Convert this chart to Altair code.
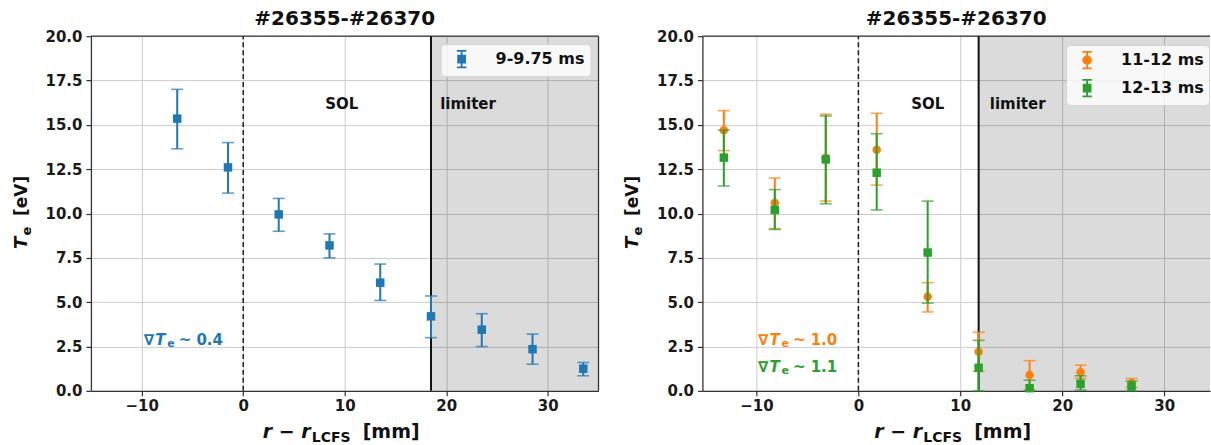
import altair as alt
import pandas as pd

FONT = "DejaVu Sans"
TITLE = "#26355-#26370"

X_TICKS = [-10, 0, 10, 20, 30]
Y_TICKS = [0.0, 2.5, 5.0, 7.5, 10.0, 12.5, 15.0, 17.5, 20.0]
Y_MAX = 20.0

BLUE, ORANGE, GREEN = "#1f77b4", "#ff7f0e", "#2ca02c"

# ---- left panel: 9-9.75 ms ----
L_SERIES = "9-9.75 ms"
L_X = [-6.5, -1.5, 3.5, 8.5, 13.5, 18.5, 23.5, 28.5, 33.5]
L_TE = [15.35, 12.6, 9.95, 8.2, 6.1, 4.2, 3.45, 2.35, 1.25]
L_LO = [13.65, 11.15, 9.0, 7.5, 5.1, 3.0, 2.5, 1.5, 0.85]
L_HI = [17.0, 14.0, 10.85, 8.85, 7.15, 5.35, 4.35, 3.2, 1.6]
L_LIMITER = 18.5
L_XDOM = [-15.0, 35.0]
L_REGIONS = [("SOL", 9.7, "center"), ("limiter", 19.4, "left")]
L_GRAD = [("0.4", BLUE, -9.8, 2.84)]

# ---- right panel: 11-12 ms and 12-13 ms ----
R_SERIES = ["11-12 ms", "12-13 ms"]
R_X = [-13.2, -8.2, -3.2, 1.8, 6.8, 11.8, 16.8, 21.8, 26.8]
O_TE = [14.7, 10.6, 13.15, 13.6, 5.3, 2.2, 0.9, 1.05, 0.45]
O_LO = [13.55, 9.15, 10.7, 11.6, 4.45, 1.1, 0.05, 0.7, 0.2]
O_HI = [15.8, 12.0, 15.6, 15.65, 6.1, 3.3, 1.7, 1.45, 0.7]
G_TE = [13.15, 10.2, 13.05, 12.3, 7.8, 1.3, 0.15, 0.4, 0.25]
G_LO = [11.55, 9.1, 10.55, 10.2, 4.95, 0.0, 0.0, 0.05, 0.0]
G_HI = [14.7, 11.35, 15.5, 14.5, 10.7, 2.85, 0.6, 0.85, 0.55]
R_LIMITER = 11.8
R_XDOM = [-15.3, 34.5]
R_REGIONS = [("SOL", 6.8, "center"), ("limiter", 12.9, "left")]
R_GRAD = [("1.0", ORANGE, -9.85, 2.84), ("1.1", GREEN, -9.85, 1.35)]

REGION_Y = 16.2

W, H = 508, 355

# legend glyphs: an error bar with its marker, in Vega's unit square
ERR_SQUARE = ("M-0.55,-0.95H0.55M0,-0.95V0.95M-0.55,0.95H0.55"
              "M-0.4,-0.4H0.4V0.4H-0.4Z")
ERR_CIRCLE = ("M-0.55,-0.95H0.55M0,-0.95V0.95M-0.55,0.95H0.55"
              "M0.45,0A0.45,0.45 0 1,1 -0.45,0A0.45,0.45 0 1,1 0.45,0Z")


def axes(xdom):
    x = alt.X(
        "r:Q",
        title=None,
        scale=alt.Scale(domain=xdom, nice=False, zero=False),
        axis=alt.Axis(values=X_TICKS, format="d", grid=True, tickSize=5,
                      labelPadding=3),
    )
    y = alt.Y(
        "te:Q",
        title=None,
        scale=alt.Scale(domain=[0, Y_MAX], nice=False, zero=True),
        axis=alt.Axis(values=Y_TICKS, format=".1f", grid=True, tickSize=5,
                      labelPadding=4),
    )
    return x, y


def frame(xdom, lim, right_border):
    x, y = axes(xdom)
    shade = alt.Chart(pd.DataFrame(
        {"r": [lim], "r2": [xdom[1]], "te": [0.0], "te2": [Y_MAX]}
    )).mark_rect(color="black", opacity=0.14).encode(
        x=x, x2="r2:Q", y=y, y2="te2:Q")
    top = alt.Chart(pd.DataFrame(
        {"r": [xdom[0]], "r2": [xdom[1]], "te": [Y_MAX]}
    )).mark_rule(color="#333333", strokeWidth=1.3).encode(
        x=alt.X("r:Q", title=None), x2="r2:Q", y=alt.Y("te:Q", title=None))
    layers = [shade, top]
    if right_border:
        layers.append(alt.Chart(pd.DataFrame(
            {"r": [xdom[1]], "te": [0.0], "te2": [Y_MAX]}
        )).mark_rule(color="#333333", strokeWidth=1.3).encode(
            x=alt.X("r:Q", title=None), y=alt.Y("te:Q", title=None), y2="te2:Q"))
    sep = alt.Chart(pd.DataFrame(
        {"r": [0.0], "te": [0.0], "te2": [Y_MAX]}
    )).mark_rule(color="#222222", strokeWidth=1.5, strokeDash=[5, 3]).encode(
        x=alt.X("r:Q", title=None), y=alt.Y("te:Q", title=None), y2="te2:Q")
    limiter = alt.Chart(pd.DataFrame(
        {"r": [lim], "te": [0.0], "te2": [Y_MAX]}
    )).mark_rule(color="#111111", strokeWidth=2).encode(
        x=alt.X("r:Q", title=None), y=alt.Y("te:Q", title=None), y2="te2:Q")
    return layers + [sep, limiter]


def series(xs, te, lo, hi, color, shape):
    df = pd.DataFrame({"r": xs, "te": te, "lo": lo, "hi": hi})
    base = alt.Chart(df)
    bars = base.mark_rule(color=color, strokeWidth=2).encode(
        x=alt.X("r:Q", title=None), y=alt.Y("lo:Q", title=None), y2="hi:Q")
    cap_lo = base.mark_tick(color=color, orient="horizontal", size=12,
                            thickness=1.6).encode(
        x=alt.X("r:Q", title=None), y=alt.Y("lo:Q", title=None))
    cap_hi = base.mark_tick(color=color, orient="horizontal", size=12,
                            thickness=1.6).encode(
        x=alt.X("r:Q", title=None), y=alt.Y("hi:Q", title=None))
    pts = base.mark_point(filled=True, size=72, opacity=1, shape=shape,
                          color=color).encode(
        x=alt.X("r:Q", title=None), y=alt.Y("te:Q", title=None))
    return [bars, cap_lo, cap_hi, pts]


def legend_layer(domain, colors, glyphs, lx, ly):
    leg = alt.Legend(
        title=None,
        orient="none",
        legendX=lx,
        legendY=ly,
        padding=5,
        cornerRadius=4,
        fillColor="rgba(255,255,255,0.8)",
        strokeColor="#d6d6d6",
        labelFont=FONT,
        labelFontSize=16,
        labelFontWeight="bold",
        labelColor="#111111",
        labelOffset=24,
        rowPadding=4,
        symbolOffset=6,
        symbolSize=300,
        symbolStrokeWidth=1.8,
    )
    empty = pd.DataFrame({"r": pd.Series([], dtype=float),
                          "te": pd.Series([], dtype=float),
                          "series": pd.Series([], dtype=str)})
    return [alt.Chart(empty).mark_point(filled=True, opacity=1).encode(
        x=alt.X("r:Q", title=None),
        y=alt.Y("te:Q", title=None),
        fill=alt.Fill("series:N", scale=alt.Scale(domain=domain, range=colors),
                      legend=leg),
        stroke=alt.Stroke("series:N", scale=alt.Scale(domain=domain, range=colors),
                          legend=leg),
        shape=alt.Shape("series:N", scale=alt.Scale(domain=domain, range=glyphs),
                        legend=leg),
    )]


def region_labels(regions):
    out = []
    for text, x, align in regions:
        out.append(alt.Chart(pd.DataFrame({"r": [x], "te": [REGION_Y], "label": [text]}))
                   .mark_text(font=FONT, fontSize=15, fontWeight="bold",
                              color="#111111", align=align, baseline="middle")
                   .encode(x=alt.X("r:Q", title=None), y=alt.Y("te:Q", title=None),
                           text="label:N"))
    return out


def gradient_labels(grads):
    rows = pd.DataFrame({
        "r": [g[2] for g in grads],
        "te": [g[3] for g in grads],
        "c": [g[1] for g in grads],
        "v": ["~ " + g[0] for g in grads],
    })
    rows["nabla"] = "∇"
    rows["T"] = "T"
    rows["e"] = "e"
    base = alt.Chart(rows)
    enc = dict(x=alt.X("r:Q", title=None), y=alt.Y("te:Q", title=None),
               color=alt.Color("c:N", scale=None))
    pieces = [
        ("nabla", 15, "normal", 0, 0),
        ("T", 15, "italic", 11.5, 0),
        ("e", 11, "normal", 23.5, 4),
        ("v", 15, "normal", 35, 0),
    ]
    out = []
    for field, size, style, dx, dy in pieces:
        out.append(base.mark_text(font=FONT, fontSize=size, fontWeight="bold",
                                  fontStyle=style, align="left",
                                  baseline="middle", dx=dx, dy=dy)
                   .encode(text=f"{field}:N", **enc))
    return out


# axis titles built from styled pieces (italic symbols, subscripts)
XT_PIECES = [("r − r", 19, "italic", 172, 0), ("LCFS", 14, "normal", 221, 4),
             ("[mm]", 19, "normal", 272, 0)]
YT_PIECES = [("T", 18, "italic", 0, 0), ("e", 13, "normal", 13.5, 4),
             ("[eV]", 17, "normal", 33, 0)]


def axis_titles():
    out = []
    for text, size, style, x, dy in XT_PIECES:
        out.append(alt.Chart(pd.DataFrame({"t": [text]})).mark_text(
            font=FONT, fontSize=size, fontWeight="bold", fontStyle=style,
            color="#111111", align="left", baseline="alphabetic", dy=dy)
            .encode(text="t:N", x=alt.value(x), y=alt.value(H + 47)))
    for text, size, style, dx, dy in YT_PIECES:
        out.append(alt.Chart(pd.DataFrame({"t": [text]})).mark_text(
            font=FONT, fontSize=size, fontWeight="bold", fontStyle=style,
            color="#111111", align="left", baseline="alphabetic", angle=270,
            dx=dx, dy=dy)
            .encode(text="t:N", x=alt.value(-64), y=alt.value(213)))
    return out


title = alt.TitleParams(TITLE, font=FONT, fontSize=20, fontWeight="bold",
                        color="#111111", anchor="middle", offset=0)

left_layers = (
    frame(L_XDOM, L_LIMITER, True)
    + series(L_X, L_TE, L_LO, L_HI, BLUE, "square")
    + legend_layer([L_SERIES], [BLUE], [ERR_SQUARE], 350, 8)
    + region_labels(L_REGIONS)
    + gradient_labels(L_GRAD)
    + axis_titles()
)
left = alt.layer(*left_layers).properties(width=W, height=H, title=title)

right_layers = (
    frame(R_XDOM, R_LIMITER, False)
    + series(R_X, O_TE, O_LO, O_HI, ORANGE, "circle")
    + series(R_X, G_TE, G_LO, G_HI, GREEN, "square")
    + legend_layer(R_SERIES, [ORANGE, GREEN], [ERR_CIRCLE, ERR_SQUARE], 364, 9)
    + region_labels(R_REGIONS)
    + gradient_labels(R_GRAD)
    + axis_titles()
)
right = alt.layer(*right_layers).properties(width=W, height=H, title=title)

chart = (
    alt.hconcat(left, right, spacing=104, bounds="flush")
    .resolve_scale(x="independent", y="independent", fill="independent",
                   stroke="independent", shape="independent")
    .resolve_legend(fill="independent", stroke="independent",
                    shape="independent")
    .properties(padding={"left": 13, "top": 9, "right": 0, "bottom": 0},
                background="white")
    .configure_view(stroke=None)
    .configure_axis(
        labelFont=FONT, labelFontSize=15, labelFontWeight="bold",
        labelColor="#1a1a1a", domainColor="#333333", domainWidth=1.3,
        tickColor="#333333", tickWidth=1.2, gridColor="#cccccc", gridWidth=1,
    )
)

chart.save("out.html", embed_options={"renderer": "svg", "actions": False})
